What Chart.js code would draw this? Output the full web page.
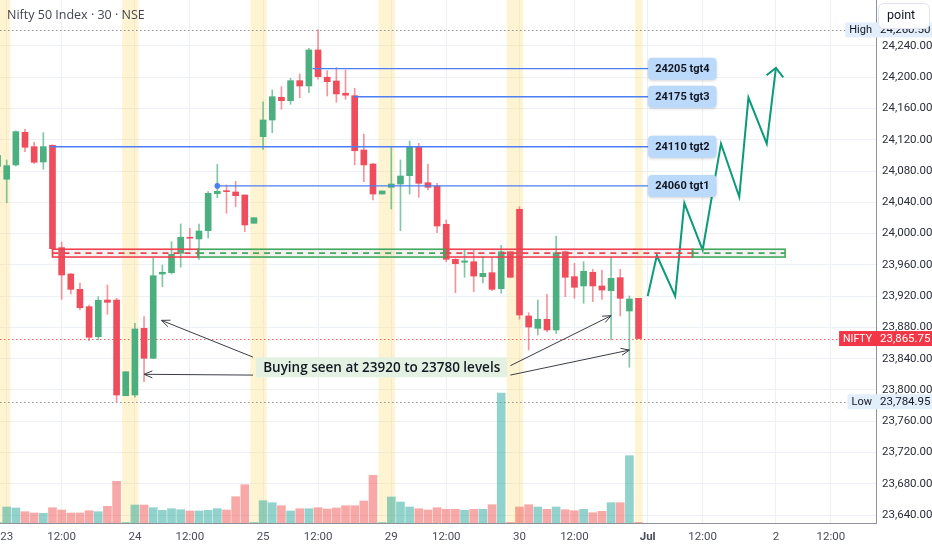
<!DOCTYPE html>
<html>
<head>
<meta charset="utf-8">
<script src="https://cdn.jsdelivr.net/npm/chart.js@4.4.1/dist/chart.umd.min.js"></script>
<style>
  html, body { margin: 0; padding: 0; background: #fff; }
  #wrap { position: relative; width: 932px; height: 550px; }
</style>
</head>
<body>
<div id="wrap"><canvas id="chart"></canvas></div>
<script>
// 30 min bars, index 0 = pre-open bar of the 23rd, 14 bars a day (pre-open + 13)
const opens = [
  24086, 24069.5, 24087.8, 24129.6, 24111.2, 24091.6, 24113.0, 23982.0, 23948.3, 23928.7, 23906.5, 23868.1, 23915.0, 23915.0,
  23792.6, 23793.5, 23878.8, 23840.5, 23948.3, 23950.0, 23974.8, 23995.3, 23993.1, 24003.7, 24051.0, 24054.5, 24053.2, 24049.4,
  24013.2, 24124.0, 24145.3, 24174.4, 24170.0, 24195.6, 24188.8, 24234.9, 24200.0, 24195.2, 24179.5, 24176.4, 24106.9, 24089.0,
  24050.6, 24059.2, 24063.4, 24074.1, 24111.2, 24065.1, 24060.9, 24011.9, 23967.1, 23963.3, 23964.0, 23944.9, 23950.0, 23929.5,
  23976.8, 24031.1, 23894.6, 23878.8, 23890.4, 23876.7, 23976.8, 23944.9, 23933.0, 23950.5, 23933.0, 23927.0, 23943.6, 23901.0,
  23917.2
];
const highs = [
  24104, 24094.2, 24131.6, 24133.4, 24116.8, 24129.1, 24113.5, 23989.2, 23949.2, 23936.8, 23908.7, 23919.3, 23934.2, 23917.2,
  23823.3, 23885.2, 23893.7, 23968.4, 23959.8, 23989.6, 24012.3, 24006.8, 24012.3, 24053.6, 24088.6, 24062.2, 24066.9, 24049.4,
  24020.3, 24168.7, 24183.7, 24187.9, 24198.6, 24204.2, 24237.0, 24260.5, 24208.4, 24212.3, 24209.3, 24185.9, 24127.4, 24090.0,
  24054.5, 24110.4, 24094.2, 24118.5, 24115.5, 24089.0, 24064.3, 24017.4, 23968.0, 23979.0, 23979.0, 23970.5, 23969.7, 23985.0,
  23976.8, 24034.4, 23898.8, 23915.0, 23922.3, 23996.9, 23977.7, 23962.0, 23964.0, 23954.3, 23953.4, 23969.7, 23954.3, 23920.2,
  23917.2
];
const lows = [
  24082, 24039.5, 24086.5, 24104.8, 24089.9, 24082.3, 23980.0, 23915.9, 23922.7, 23902.3, 23863.0, 23863.9, 23896.8, 23784.95,
  23792.6, 23790.6, 23810.5, 23840.0, 23932.1, 23948.3, 23956.9, 23979.0, 23967.1, 23994.0, 24045.9, 24026.0, 24034.4, 24002.4,
  24013.2, 24107.8, 24129.1, 24159.0, 24165.4, 24173.9, 24180.3, 24197.4, 24176.0, 24168.0, 24171.8, 24087.8, 24066.4, 24043.0,
  24050.6, 24031.5, 24003.7, 24050.6, 24046.4, 24055.8, 24001.1, 23964.0, 23924.4, 23944.1, 23925.7, 23936.8, 23927.0, 23923.6,
  23944.1, 23890.4, 23851.1, 23870.3, 23874.5, 23872.4, 23919.3, 23917.2, 23910.8, 23912.9, 23915.9, 23863.9, 23894.6, 23829.0,
  23865.75
];
const closes = [
  24100, 24086.9, 24130.4, 24110.4, 24091.2, 24111.2, 23980.7, 23947.0, 23928.7, 23905.2, 23867.3, 23914.7, 23912.1, 23793.5,
  23823.3, 23878.0, 23840.5, 23946.1, 23950.5, 23973.5, 23995.3, 23994.0, 24003.3, 24051.5, 24054.1, 24053.6, 24048.5, 24011.0,
  24020.3, 24145.3, 24175.1, 24170.0, 24195.6, 24188.8, 24234.9, 24200.7, 24194.3, 24178.6, 24177.0, 24106.0, 24087.8, 24050.6,
  24054.5, 24063.4, 24073.7, 24111.2, 24064.3, 24059.2, 24009.7, 23967.1, 23961.5, 23965.0, 23945.7, 23949.2, 23928.7, 23976.8,
  23944.1, 23895.9, 23880.5, 23890.4, 23876.7, 23975.6, 23944.1, 23931.3, 23951.8, 23933.0, 23927.8, 23942.8, 23917.2, 23916.3,
  23865.75
];
// volume pane has no scale, relative units
const volumes = [
  0.5, 16, 15, 11.3, 10, 9.7, 15.3, 13, 10, 10, 12.3, 11.3, 16.7, 41.7,
  0.5, 18, 18, 15.3, 12.7, 14.3, 13.3, 12, 12, 12.7, 14.3, 13, 26.3, 38.3,
  0.5, 22.3, 20.3, 17.3, 12, 14.3, 14.3, 15.3, 14, 15, 17.3, 17.3, 22, 47.7,
  0.5, 26, 21, 16, 14.3, 13, 15.3, 13.7, 13.7, 12.7, 13.7, 13.7, 18.3, 130,
  0.5, 16, 18.3, 16, 13.7, 16, 13.3, 12.3, 13.7, 10.3, 11.7, 20.3, 20.3, 67.3,
  0.5
];

const xTickIdx = [1, 7, 15, 21, 29, 35, 43, 49, 57, 63, 71, 77, 85, 91];
const xTickText = ["23", "12:00", "24", "12:00", "25", "12:00", "29", "12:00", "30", "12:00", "Jul", "12:00", "2", "12:00"];
const priceTicks = [23640, 23680, 23720, 23760, 23800, 23840, 23880, 23920, 23960, 24000, 24040, 24080, 24120, 24160, 24200, 24240];

const sessionStarts = [0, 14, 28, 42, 56, 70];

const targetLevels = [24211, 24175, 24111, 24061];
const targetFrom = [34.4, 38.9, 5.8, 24];
const targetText = ["24205 tgt4", "24175 tgt3", "24110 tgt2", "24060 tgt1"];
const targetEnd = 71.05;

const pathIdx = [71, 72, 74, 75, 77, 79, 81, 82, 84, 85];
const pathPrice = [23920, 23972, 23920, 24039, 23979, 24115, 24047, 24174, 24115, 24212];

const zoneTop = 23980;
const zoneBottom = 23970;
const redZones = [[6, 21.9], [48.9, 75.9]];
const greenZones = [[21.9, 48.9], [75.9, 86]];

const noteText = "Buying seen at 23920 to 23780 levels";
const noteAt = [41.95, 23829];
const noteArrows = [
  [27.9, 23842, 17.9, 23889],
  [27.9, 23819, 16.0, 23820],
  [56.0, 23831, 67.0, 23895],
  [56.0, 23819, 69.0, 23851]
];

const lastPrice = 23865.75;
const dayHigh = 24260.5;
const dayLow = 23784.95;

const UP = '#4caf7f', DOWN = '#ef4c5c';
const idx = opens.map((_, j) => j);
const isUp = j => closes[j] >= opens[j];
const fmt = v => v.toLocaleString('en-US', { minimumFractionDigits: 2, maximumFractionDigits: 2 });

function rr(ctx, x, y, w, h, r) {
  ctx.beginPath();
  ctx.moveTo(x + r, y);
  ctx.arcTo(x + w, y, x + w, y + h, r);
  ctx.arcTo(x + w, y + h, x, y + h, r);
  ctx.arcTo(x, y + h, x, y, r);
  ctx.arcTo(x, y, x + w, y, r);
  ctx.closePath();
}

function arrowHead(ctx, fx, fy, tx, ty, len, ang) {
  const a = Math.atan2(fy - ty, fx - tx);
  ctx.beginPath();
  ctx.moveTo(tx + len * Math.cos(a + ang), ty + len * Math.sin(a + ang));
  ctx.lineTo(tx, ty);
  ctx.lineTo(tx + len * Math.cos(a - ang), ty + len * Math.sin(a - ang));
  ctx.stroke();
}

// label on the price scale; r === null means "ends at l, sized to text"
function tag(ctx, l, r, yc, bg, fg, text, size) {
  ctx.font = size + 'px Roboto, sans-serif';
  if (r === null) {
    const w = ctx.measureText(text).width + 8;
    r = l;
    l = r - w;
  }
  ctx.fillStyle = bg;
  ctx.fillRect(l, yc - 7.5, r - l, 15);
  ctx.fillStyle = fg;
  ctx.textAlign = 'left';
  ctx.textBaseline = 'middle';
  ctx.fillText(text, l + 4, yc + 0.5);
}

const overlay = {
  id: 'overlay',
  beforeDatasetsDraw(chart) {
    const { ctx, chartArea: a, scales: { x, y } } = chart;
    ctx.save();
    ctx.beginPath();
    ctx.rect(a.left, a.top, a.right - a.left, a.bottom - a.top);
    ctx.clip();

    // session break bands
    ctx.fillStyle = 'rgba(255, 224, 130, 0.36)';
    sessionStarts.forEach((j, i) => {
      const l = x.getPixelForValue(j - 0.4);
      const r = x.getPixelForValue(i === sessionStarts.length - 1 ? j + 0.45 : j + 1.4);
      ctx.fillRect(l, a.top, r - l, a.bottom - a.top);
    });

    // high / low / last price dotted lines
    ctx.lineWidth = 1;
    ctx.setLineDash([1.5, 2.5]);
    [[dayHigh, 'rgba(120,123,134,0.8)'], [dayLow, 'rgba(120,123,134,0.8)'], [lastPrice, 'rgba(242,54,69,0.8)']].forEach(([v, c]) => {
      const yy = Math.round(y.getPixelForValue(v)) + 0.5;
      ctx.strokeStyle = c;
      ctx.beginPath();
      ctx.moveTo(a.left, yy);
      ctx.lineTo(a.right, yy);
      ctx.stroke();
    });
    ctx.restore();
  },
  afterDatasetsDraw(chart) {
    const { ctx, chartArea: a, scales: { x, y } } = chart;
    const px = v => x.getPixelForValue(v);
    const py = v => y.getPixelForValue(v);
    ctx.save();
    ctx.beginPath();
    ctx.rect(a.left, a.top, a.right - a.left, a.bottom - a.top);
    ctx.clip();

    // support zone
    const zt = py(zoneTop), zb = py(zoneBottom), zm = (zt + zb) / 2;
    const zone = (seg, col) => {
      const l = px(seg[0]), r = px(seg[1]);
      ctx.fillStyle = 'rgba(150,150,160,0.12)';
      ctx.fillRect(l, zt, r - l, zb - zt);
      ctx.strokeStyle = col;
      ctx.lineWidth = 1.6;
      ctx.setLineDash([]);
      ctx.strokeRect(l, zt, r - l, zb - zt);
      ctx.lineWidth = 1.8;
      ctx.setLineDash([6, 5]);
      ctx.beginPath();
      ctx.moveTo(l, zm);
      ctx.lineTo(r, zm);
      ctx.stroke();
      ctx.setLineDash([]);
    };
    redZones.forEach(s => zone(s, '#f0414f'));
    greenZones.forEach(s => zone(s, '#43a85c'));

    // target lines and callouts
    ctx.font = 'bold 11px Roboto, sans-serif';
    ctx.textBaseline = 'middle';
    ctx.textAlign = 'left';
    targetLevels.forEach((lv, i) => {
      const yy = py(lv);
      const l = px(targetFrom[i]), r = px(targetEnd);
      ctx.strokeStyle = '#4b7ef5';
      ctx.lineWidth = 1.4;
      ctx.beginPath();
      ctx.moveTo(l, yy);
      ctx.lineTo(r, yy);
      ctx.stroke();
      if (i === 3) {
        ctx.fillStyle = '#4b7ef5';
        ctx.beginPath();
        ctx.arc(l, yy, 2.8, 0, Math.PI * 2);
        ctx.fill();
      }
      const tw = ctx.measureText(targetText[i]).width;
      ctx.save();
      ctx.shadowColor = 'rgba(0,0,0,0.18)';
      ctx.shadowBlur = 3;
      ctx.shadowOffsetY = 1;
      ctx.fillStyle = '#bbd9fb';
      rr(ctx, r, yy - 11, tw + 14, 22, 4);
      ctx.fill();
      ctx.restore();
      ctx.fillStyle = '#131722';
      ctx.fillText(targetText[i], r + 7, yy + 0.5);
    });

    // projection arrow head
    const n = pathIdx.length;
    ctx.strokeStyle = '#0c9a78';
    ctx.lineWidth = 2;
    arrowHead(ctx, px(pathIdx[n - 2]), py(pathPrice[n - 2]), px(pathIdx[n - 1]), py(pathPrice[n - 1]), 12, 0.78);

    // note with arrows
    ctx.strokeStyle = '#3a3d45';
    ctx.lineWidth = 1;
    noteArrows.forEach(([fj, fp, tj, tp]) => {
      const fx = px(fj), fy = py(fp), tx = px(tj), ty = py(tp);
      ctx.beginPath();
      ctx.moveTo(fx, fy);
      ctx.lineTo(tx, ty);
      ctx.stroke();
      arrowHead(ctx, fx, fy, tx, ty, 9, 0.4);
    });
    ctx.font = '600 13.5px "Open Sans", sans-serif';
    const nw = ctx.measureText(noteText).width;
    const cx = px(noteAt[0]), cy = py(noteAt[1]);
    ctx.fillStyle = '#e3f1e2';
    ctx.fillRect(cx - nw / 2 - 7, cy - 10, nw + 14, 20);
    ctx.fillStyle = '#131722';
    ctx.textAlign = 'center';
    ctx.fillText(noteText, cx, cy + 0.5);
    ctx.restore();
  },
  afterDraw(chart) {
    const { ctx, chartArea: a, scales: { y } } = chart;
    ctx.save();
    // price tags
    const yl = y.getPixelForValue(lastPrice);
    tag(ctx, a.right, null, yl, '#f23645', '#fff', 'NIFTY', 10.5);
    tag(ctx, a.right, 932, yl, '#f23645', '#fff', fmt(lastPrice), 11.5);
    const ylo = y.getPixelForValue(dayLow);
    tag(ctx, a.right, null, ylo, '#e3eefb', '#131722', 'Low', 11);
    tag(ctx, a.right, 932, ylo, '#e3eefb', '#131722', fmt(dayLow), 11.5);
    const yhi = y.getPixelForValue(dayHigh);
    tag(ctx, a.right, null, yhi, '#e3eefb', '#131722', 'High', 11);
    tag(ctx, a.right, 932, yhi, '#e3eefb', '#131722', fmt(dayHigh), 11.5);

    // interval button
    ctx.fillStyle = '#fff';
    ctx.strokeStyle = '#e0e3eb';
    ctx.lineWidth = 1;
    rr(ctx, 878.5, 3.5, 51, 25, 5);
    ctx.fill();
    ctx.stroke();
    ctx.fillStyle = '#131722';
    ctx.font = '12.5px Roboto, sans-serif';
    ctx.textAlign = 'left';
    ctx.textBaseline = 'middle';
    ctx.fillText('point', 887, 16);

    // title
    ctx.fillStyle = '#434651';
    ctx.font = '12.5px "Open Sans", sans-serif';
    ctx.fillText('Nifty 50 Index \u00b7 30 \u00b7 NSE', 7, 15);
    ctx.restore();
  }
};

Chart.defaults.font.family = 'Roboto, "Open Sans", sans-serif';

new Chart(document.getElementById('chart'), {
  type: 'bar',
  data: {
    datasets: [
      {
        type: 'line',
        label: 'projection',
        data: pathIdx.map((j, i) => ({ x: j, y: pathPrice[i] })),
        borderColor: '#0c9a78',
        borderWidth: 2,
        pointRadius: 0,
        tension: 0,
        yAxisID: 'y',
        order: 1
      },
      {
        label: 'body',
        data: idx.map(j => ({ x: j, y: [opens[j], closes[j]] })),
        backgroundColor: c => isUp(c.dataIndex) ? UP : DOWN,
        barThickness: 6,
        minBarLength: 1,
        grouped: false,
        yAxisID: 'y',
        order: 2
      },
      {
        label: 'wick',
        data: idx.map(j => ({ x: j, y: [lows[j], highs[j]] })),
        backgroundColor: c => isUp(c.dataIndex) ? 'rgba(76,175,127,0.7)' : 'rgba(239,76,92,0.6)',
        barThickness: 1,
        grouped: false,
        yAxisID: 'y',
        order: 3
      },
      {
        label: 'volume',
        data: idx.map(j => ({ x: j, y: volumes[j] })),
        backgroundColor: c => isUp(c.dataIndex) ? 'rgba(38,166,154,0.5)' : 'rgba(239,83,80,0.5)',
        barThickness: 8,
        grouped: false,
        yAxisID: 'yVol',
        order: 4
      }
    ]
  },
  options: {
    responsive: true,
    maintainAspectRatio: false,
    animation: false,
    events: [],
    layout: { padding: 0, autoPadding: false },
    plugins: {
      legend: { display: false },
      tooltip: { enabled: false }
    },
    scales: {
      x: {
        type: 'linear',
        position: 'bottom',
        offset: false,
        min: 0.2686,
        max: 95.93,
        afterBuildTicks: s => { s.ticks = xTickIdx.map(v => ({ value: v })); },
        afterFit: s => {
          s.height = 27;
          s.paddingLeft = 0;
          s.paddingRight = 0;
        },
        ticks: {
          autoSkip: false,
          maxRotation: 0,
          padding: 7,
          color: '#4a4d57',
          font: c => ({ size: 11.5, weight: c.tick && c.tick.value === 71 ? 'bold' : 'normal' }),
          callback: v => xTickText[xTickIdx.indexOf(v)]
        },
        grid: { color: '#edf0f5', drawTicks: false, offset: false },
        border: { display: true, color: '#8f929b' }
      },
      y: {
        type: 'linear',
        position: 'right',
        min: 23629.8,
        max: 24298.8,
        afterBuildTicks: s => { s.ticks = priceTicks.map(v => ({ value: v })); },
        afterFit: s => {
          s.width = 56;
          s.paddingTop = 0;
          s.paddingBottom = 0;
        },
        ticks: {
          padding: 6,
          color: '#2a2e39',
          font: { size: 11.5 },
          callback: v => fmt(v)
        },
        grid: { color: '#edf0f5', drawTicks: false },
        border: { display: true, color: '#8f929b' }
      },
      yVol: {
        type: 'linear',
        display: false,
        min: 0,
        max: 523
      }
    }
  },
  plugins: [overlay]
});
</script>
</body>
</html>
